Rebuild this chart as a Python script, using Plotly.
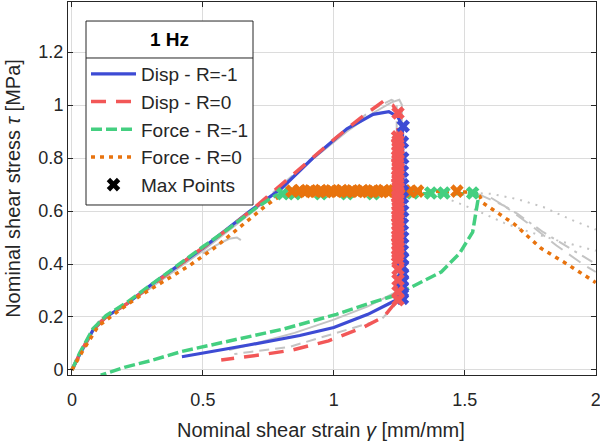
import plotly.graph_objects as go

# ---------------- data ----------------
# Disp - R=-1 (blue, solid): loading, drop at max strain, unloading
disp_m1_x = [0, 0.03, 0.08, 0.13, 0.21, 0.30, 0.40, 0.50, 0.59, 0.68, 0.80, 0.92, 1.05, 1.15, 1.21,
             1.245, 1.262, 1.266, 1.266, 1.26, 1.21, 1.13, 1.00, 0.87, 0.68, 0.42]
disp_m1_y = [0, 0.06, 0.15, 0.20, 0.25, 0.32, 0.39, 0.46, 0.53, 0.60, 0.685, 0.80, 0.91, 0.965, 0.975,
             0.955, 0.92, 0.60, 0.29, 0.275, 0.25, 0.21, 0.16, 0.13, 0.095, 0.05]

# Disp - R=0 (red, dashed)
disp_0_x = [0, 0.03, 0.08, 0.13, 0.21, 0.30, 0.40, 0.50, 0.60, 0.70, 0.80, 0.90, 1.00, 1.10, 1.19,
            1.225, 1.245, 1.245, 1.24, 1.19, 1.11, 0.98, 0.84, 0.72, 0.57]
disp_0_y = [0, 0.06, 0.15, 0.20, 0.25, 0.315, 0.39, 0.46, 0.535, 0.615, 0.70, 0.785, 0.87, 0.95, 1.015,
            1.00, 0.97, 0.60, 0.26, 0.20, 0.16, 0.11, 0.075, 0.057, 0.038]

# Force - R=-1 (green, dashed)
force_m1_x = [0, 0.03, 0.08, 0.13, 0.21, 0.30, 0.40, 0.50, 0.60, 0.70, 0.78, 0.82, 1.00, 1.20, 1.40, 1.545,
              1.55, 1.53, 1.48, 1.41, 1.31, 1.23, 1.13, 1.01, 0.81, 0.61, 0.42, 0.30, 0.20, 0.11]
force_m1_y = [0, 0.065, 0.155, 0.205, 0.255, 0.32, 0.395, 0.465, 0.535, 0.61, 0.66, 0.665, 0.665, 0.665, 0.665, 0.665,
              0.64, 0.52, 0.44, 0.37, 0.32, 0.28, 0.25, 0.21, 0.155, 0.11, 0.07, 0.035, 0.01, -0.02]

# Force - R=0 (orange, dotted)
force_0_x = [0, 0.04, 0.10, 0.18, 0.26, 0.34, 0.45, 0.55, 0.65, 0.74, 0.80, 0.84, 1.00, 1.20, 1.40, 1.55,
             1.57, 1.63, 1.69, 1.79, 1.89, 2.00]
force_0_y = [0, 0.07, 0.165, 0.225, 0.28, 0.33, 0.395, 0.465, 0.545, 0.62, 0.66, 0.675, 0.675, 0.675, 0.675, 0.67,
             0.63, 0.59, 0.55, 0.46, 0.40, 0.33]

# grey background curves (other frequencies)
grey_solid_x = [0, 0.10, 0.30, 0.50, 0.70, 0.90, 1.05, 1.15, 1.22, 1.25, 1.26, 1.26, 1.25, 1.21, 1.13, 1.00, 0.85, 0.70, 0.60]
grey_solid_y = [0, 0.18, 0.31, 0.45, 0.605, 0.78, 0.90, 0.97, 1.01, 1.02, 1.00, 0.32, 0.30, 0.28, 0.24, 0.19, 0.14, 0.10, 0.075]
grey_short_x = [0.50, 0.55, 0.60, 0.63, 0.645]
grey_short_y = [0.44, 0.47, 0.495, 0.50, 0.49]
grey_dash_x = [0, 0.10, 0.30, 0.50, 0.70, 0.90, 1.05, 1.15, 1.22, 1.24, 1.24, 1.23, 1.18, 1.01, 0.83, 0.68, 0.62]
grey_dash_y = [0, 0.18, 0.31, 0.455, 0.61, 0.785, 0.91, 0.985, 1.02, 1.01, 0.30, 0.24, 0.19, 0.14, 0.087, 0.068, 0.06]
grey_dot1_x = [1.50, 1.60, 1.70, 1.80, 1.90, 2.00]
grey_dot1_y = [0.67, 0.665, 0.645, 0.615, 0.57, 0.53]
grey_dot2_x = [1.45, 1.55, 1.65, 1.75, 1.85, 2.00]
grey_dot2_y = [0.64, 0.60, 0.555, 0.52, 0.49, 0.45]
grey_ldash1_x = [1.55, 1.65, 1.76, 1.85, 1.95, 2.00]
grey_ldash1_y = [0.665, 0.62, 0.54, 0.47, 0.40, 0.37]
grey_ldash2_x = [1.60, 1.70, 1.80, 1.90, 2.00]
grey_ldash2_y = [0.65, 0.59, 0.52, 0.46, 0.40]

# max points of each cycle
red_max_x = [1.245, 1.243, 1.245, 1.244, 1.246, 1.245, 1.243, 1.245, 1.244, 1.246, 1.245, 1.243, 1.245,
             1.244, 1.246, 1.245, 1.243, 1.245, 1.244, 1.246, 1.245, 1.243, 1.245, 1.244, 1.246, 1.245,
             1.243, 1.245, 1.244, 1.246, 1.245, 1.243, 1.245, 1.245, 1.245, 1.245, 1.245]
red_max_y = [0.97, 0.88, 0.865, 0.85, 0.835, 0.82, 0.805, 0.79, 0.775, 0.76, 0.745, 0.73, 0.715,
             0.70, 0.685, 0.67, 0.655, 0.64, 0.625, 0.61, 0.595, 0.58, 0.565, 0.55, 0.535, 0.52,
             0.505, 0.49, 0.475, 0.46, 0.445, 0.43, 0.415, 0.38, 0.34, 0.295, 0.265]
blue_max_x = [1.265, 1.262, 1.263, 1.262, 1.263, 1.262, 1.263, 1.262, 1.263, 1.262, 1.263, 1.262,
              1.263, 1.262, 1.262, 1.262, 1.262]
blue_max_y = [0.92, 0.86, 0.80, 0.75, 0.70, 0.65, 0.60, 0.55, 0.50, 0.45, 0.42, 0.39,
              0.36, 0.34, 0.31, 0.29, 0.27]
orange_max_x = [0.84, 0.87, 0.89, 0.91, 0.93, 0.95, 0.97, 0.99, 1.01, 1.03, 1.05, 1.07, 1.09, 1.11,
                1.13, 1.15, 1.17, 1.19, 1.21, 1.23, 1.25, 1.27, 1.29, 1.32, 1.47]
orange_max_y = [0.675, 0.677, 0.673, 0.676, 0.674, 0.677, 0.673, 0.676, 0.674, 0.677, 0.673, 0.676, 0.674,
                0.677, 0.673, 0.676, 0.674, 0.677, 0.673, 0.676, 0.674, 0.676, 0.674, 0.675, 0.675]
green_max_x = [0.805, 0.85, 0.95, 1.05, 1.15, 1.25, 1.30, 1.37, 1.42, 1.53]
green_max_y = [0.665, 0.665, 0.665, 0.665, 0.665, 0.665, 0.668, 0.668, 0.668, 0.668]

# legend / tick text
legend_title = "1 Hz"
legend_names = ["Disp - R=-1", "Disp - R=0", "Force - R=-1", "Force - R=0", "Max Points"]
x_ticks = [0, 0.5, 1, 1.5, 2]
x_ticktext = ["0", "0.5", "1", "1.5", "2"]
y_ticks = [0, 0.2, 0.4, 0.6, 0.8, 1.0, 1.2]
y_ticktext = ["0", "0.2", "0.4", "0.6", "0.8", "1", "1.2"]

BLUE = "#3D4BD4"
RED = "#F25757"
GREEN = "#44CF80"
ORANGE = "#E8730E"
GREY = "#C4C4C4"
INK = "#262626"

fig = go.Figure()

def grey(x, y, dash):
    fig.add_trace(go.Scatter(x=x, y=y, mode="lines", showlegend=False, hoverinfo="skip",
                             line=dict(color=GREY, width=2, dash=dash)))

grey(grey_solid_x, grey_solid_y, "solid")
grey(grey_short_x, grey_short_y, "solid")
grey(grey_dash_x, grey_dash_y, "10px,6px")
grey(grey_dot1_x, grey_dot1_y, "2px,6px")
grey(grey_dot2_x, grey_dot2_y, "2px,6px")
grey(grey_ldash1_x, grey_ldash1_y, "14px,8px")
grey(grey_ldash2_x, grey_ldash2_y, "12px,6px,3px,6px")

fig.add_trace(go.Scatter(x=disp_m1_x, y=disp_m1_y, mode="lines", name=legend_names[0], legendgroup="a",
                         line=dict(color=BLUE, width=3.2)))
fig.add_trace(go.Scatter(x=disp_0_x, y=disp_0_y, mode="lines", name=legend_names[1], legendgroup="b",
                         line=dict(color=RED, width=3.5, dash="15px,10px")))
fig.add_trace(go.Scatter(x=force_m1_x, y=force_m1_y, mode="lines", name=legend_names[2], legendgroup="c",
                         line=dict(color=GREEN, width=3.5, dash="11px,4px")))
fig.add_trace(go.Scatter(x=force_0_x, y=force_0_y, mode="lines", name=legend_names[3], legendgroup="d",
                         line=dict(color=ORANGE, width=3.5, dash="4px,5px")))

def maxpts(x, y, color):
    fig.add_trace(go.Scatter(x=x, y=y, mode="markers", showlegend=False, hoverinfo="skip",
                             marker=dict(symbol="x", size=12, color=color, line=dict(width=0))))

maxpts(green_max_x, green_max_y, GREEN)
maxpts(orange_max_x, orange_max_y, ORANGE)
maxpts(blue_max_x, blue_max_y, BLUE)
maxpts(red_max_x, red_max_y, RED)

fig.add_trace(go.Scatter(x=[None], y=[None], mode="markers", name=legend_names[4], legendgroup="e",
                         marker=dict(symbol="x", size=12, color="black", line=dict(width=0))))

axis_common = dict(showgrid=True, gridcolor="#DCDCDC", gridwidth=1, zeroline=False,
                   showline=True, linecolor=INK, linewidth=1, mirror="ticks",
                   ticks="inside", ticklen=5, tickcolor=INK, automargin=False,
                   tickfont=dict(size=18, color=INK))

# legend box geometry (paper coordinates of the plot area)
LX0, LX1 = 0.0341, 0.3504
LY0, LY1, LSEP = 0.4558, 0.949, 0.8499

fig.update_layout(
    width=600, height=447,
    margin=dict(l=68, r=4, t=2, b=72),
    plot_bgcolor="white", paper_bgcolor="white",
    font=dict(family="Liberation Sans, Arial, sans-serif", size=18, color=INK),
    xaxis=dict(range=[-0.015, 2.001], tickvals=x_ticks, ticktext=x_ticktext, ticklabelstandoff=8,
               ticklabeloverflow="allow",
               title=dict(text="Nominal shear strain <i>γ</i> [mm/mm]" + "&nbsp;" * 4,
                          font=dict(size=20), standoff=14),
               **axis_common),
    yaxis=dict(range=[-0.019, 1.389], tickvals=y_ticks, ticktext=y_ticktext,
               title=dict(text="Nominal shear stress <i>τ</i> [MPa]", font=dict(size=20), standoff=12),
               **axis_common),
    legend=dict(x=LX0, y=LSEP + 0.008, xanchor="left", yanchor="top",
                bgcolor="rgba(0,0,0,0)", borderwidth=0,
                font=dict(size=19, color=INK),
                tracegroupgap=3, itemwidth=45, traceorder="normal"),
    shapes=[
        dict(type="rect", xref="paper", yref="paper", x0=LX0, x1=LX1, y0=LY0, y1=LY1,
             fillcolor="white", line=dict(color=INK, width=1), layer="above"),
        dict(type="line", xref="paper", yref="paper", x0=LX0, x1=LX1, y0=LSEP, y1=LSEP,
             line=dict(color=INK, width=1), layer="above"),
    ],
    annotations=[dict(text="<b>" + legend_title + "</b>", xref="paper", yref="paper",
                      x=(LX0 + LX1) / 2, y=(LY1 + LSEP) / 2, xanchor="center", yanchor="middle",
                      showarrow=False, font=dict(size=19, color="black"))],
)

fig.write_html("out.html", config={"displayModeBar": False},
               post_script="document.body.style.margin='0px';")
